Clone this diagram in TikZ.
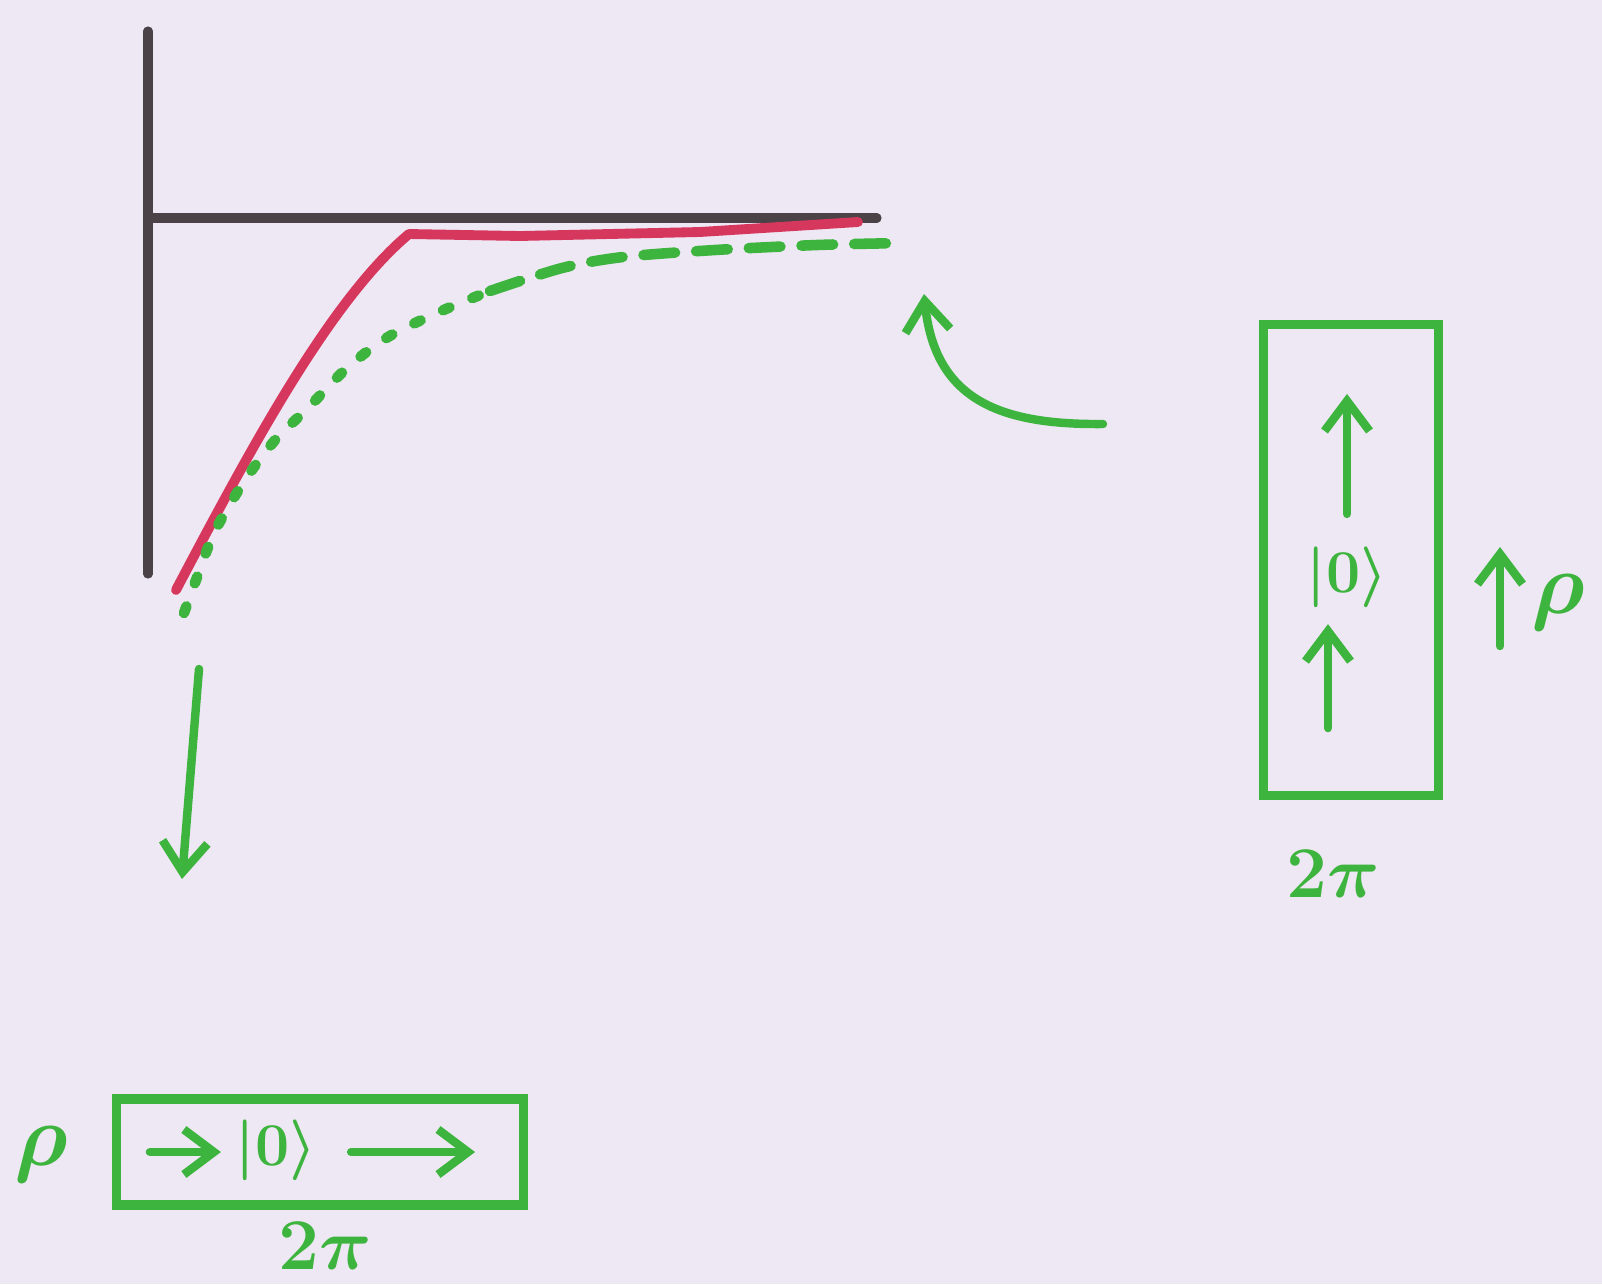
\documentclass[tikz,border=0pt]{standalone}
\usepackage{tikz}
\usepackage{xcolor}
\usetikzlibrary{arrows.meta, positioning, calc}
\definecolor{paper}{HTML}{EEE7F4}
\definecolor{marker}{HTML}{3DB43D}
\definecolor{crimson}{HTML}{D6375C}
\definecolor{slate}{HTML}{4A4247}
\tikzstyle{axis} = [slate, line width=2.6pt, line cap=round]
\tikzstyle{pen} = [marker, line width=2.4pt, line cap=round, line join=round]
\tikzstyle{arrow} = [pen, -{Straight Barb[length=3mm, width=4.5mm]}]
\tikzstyle{frame} = [rectangle, draw=marker, line width=2.6pt, inner sep=0pt]
\tikzstyle{lbl} = [marker, inner sep=0pt]

\begin{document}
\begin{tikzpicture}[x=0.01cm, y=-0.01cm]
    % Paper
    \fill[paper] (0,0) rectangle (1602,1284);

    % Axes
    \coordinate (top) at (148,31);
    \coordinate (origin) at (148,218);
    \coordinate (bottom) at (148,574);
    \coordinate (xend) at (877,218);
    \draw[axis] (top) -- (bottom);
    \draw[axis] (origin) -- (xend);

    % Red curve
    \draw[crimson, line width=2.8pt, line cap=round, line join=round]
        (176,590) .. controls (250,450) and (330,300) .. (409,234)
        -- (520,236) -- (700,232) -- (858,222);

    % Green dashed curve
    \coordinate (gstart) at (184,613);
    \coordinate (gmid) at (490,291);
    \coordinate (gend) at (904,243);
    \draw[pen, line width=3pt, dash pattern=on 2pt off 7pt]
        plot[smooth] coordinates {(gstart) (199,572) (215,531) (245,480) (276,439) (307,409) (347,368) (388,337) (439,312) (gmid)};
    \draw[pen, line width=3pt, dash pattern=on 9pt off 6pt]
        plot[smooth] coordinates {(gmid) (562,268) (623,257) (715,250) (817,245) (gend)};

    % Pointers
    \coordinate (ctail) at (1103,424);
    \coordinate (ctip) at (924,294);
    \draw[arrow] (ctail) .. controls (1000,425) and (935,400) .. (ctip);
    \coordinate (dtail) at (199,669);
    \coordinate (dtip) at (182,879);
    \draw[arrow] (dtail) -- (dtip);

    % Horizontal box
    \node[frame, minimum width=4.06cm, minimum height=1.06cm] (hbox) at (320,1152) {};
    \node[lbl, font=\LARGE\boldmath] (hket) at (276,1150) {$|0\rangle$};
    \draw[arrow] ($(hket.west)+(-85,2)$) -- ($(hket.west)+(-14,2)$);
    \draw[arrow] ($(hket.east)+(34,2)$) -- ($(hket.east)+(158,2)$);
    \node[lbl, font=\Huge\boldmath] (hrho) at (41,1155) {$\rho$};
    \node[lbl, font=\huge\boldmath] (hlen) at (325,1246) {$2\pi$};

    % Vertical box
    \node[frame, minimum width=1.75cm, minimum height=4.70cm] (vbox) at (1351,560) {};
    \node[lbl, font=\LARGE\boldmath] (vket) at (1347,577) {$|0\rangle$};
    \draw[arrow] ($(vket.north)+(0,-32)$) -- ($(vket.north)+(0,-152)$);
    \draw[arrow] ($(vket.south)+(-19,120)$) -- ($(vket.south)+(-19,16)$);
    \node[lbl, font=\huge\boldmath] (vlen) at (1333,874) {$2\pi$};
    \coordinate (stail) at (1500,646);
    \coordinate (stip) at (1500,547);
    \draw[arrow] (stail) -- (stip);
    \node[lbl, font=\Huge\boldmath] (vrho) at (1558,603) {$\rho$};
\end{tikzpicture}
\end{document}
